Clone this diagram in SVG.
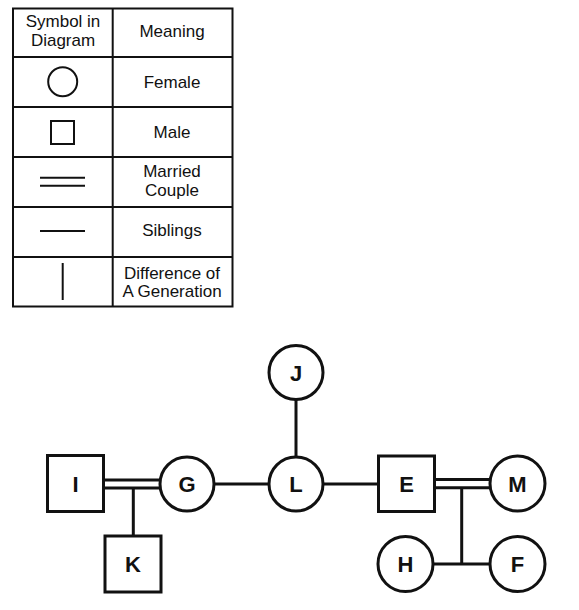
<svg xmlns="http://www.w3.org/2000/svg" width="579" height="610" viewBox="0 0 579 610">
<style>
.t{font-family:"Liberation Sans",Arial,sans-serif;font-size:17px;fill:#111;text-anchor:middle}
.n{font-family:"Liberation Sans",Arial,sans-serif;font-size:22px;font-weight:bold;fill:#111;text-anchor:middle}
.s{fill:#fff;stroke:#111;stroke-width:3}
.l{stroke:#111;stroke-width:3;fill:none}
.g{stroke:#111;stroke-width:2;fill:none}
</style>
<rect width="579" height="610" fill="#fff"/>
<g id="legend">
<rect x="13" y="8.5" width="219.5" height="298" class="g"/>
<line x1="112.7" y1="8.5" x2="112.7" y2="306.5" class="g"/>
<line x1="13" y1="57" x2="232.5" y2="57" class="g"/>
<line x1="13" y1="107" x2="232.5" y2="107" class="g"/>
<line x1="13" y1="157" x2="232.5" y2="157" class="g"/>
<line x1="13" y1="207" x2="232.5" y2="207" class="g"/>
<line x1="13" y1="257" x2="232.5" y2="257" class="g"/>
<text class="t" x="63" y="27">Symbol in</text>
<text class="t" x="63" y="46">Diagram</text>
<text class="t" x="172" y="37">Meaning</text>
<circle cx="62.7" cy="81.7" r="14.5" class="g"/>
<text class="t" x="172" y="88">Female</text>
<rect x="51" y="121" width="23" height="23" class="g"/>
<text class="t" x="172" y="138">Male</text>
<line x1="40" y1="177.7" x2="85" y2="177.7" class="g"/>
<line x1="40" y1="185.7" x2="85" y2="185.7" class="g"/>
<text class="t" x="172" y="177">Married</text>
<text class="t" x="172" y="196">Couple</text>
<line x1="40" y1="231" x2="85" y2="231" class="g"/>
<text class="t" x="172" y="236">Siblings</text>
<line x1="62.7" y1="263" x2="62.7" y2="300" class="g"/>
<text class="t" x="172" y="279">Difference of</text>
<text class="t" x="172" y="297">A Generation</text>
</g>
<g id="connectors">
<line x1="104" y1="480" x2="160" y2="480" class="l"/>
<line x1="104" y1="488" x2="160" y2="488" class="l"/>
<line x1="133.3" y1="488" x2="133.3" y2="536" class="l"/>
<line x1="214" y1="484" x2="269" y2="484" class="l"/>
<line x1="296" y1="400" x2="296" y2="457" class="l"/>
<line x1="323" y1="484" x2="378" y2="484" class="l"/>
<line x1="434" y1="479.5" x2="490" y2="479.5" class="l"/>
<line x1="434" y1="487.7" x2="490" y2="487.7" class="l"/>
<line x1="461.7" y1="487.7" x2="461.7" y2="564" class="l"/>
<line x1="433" y1="564" x2="490" y2="564" class="l"/>
</g>
<g id="node-I"><rect x="47.5" y="455.5" width="56" height="56" class="s"/><text class="n" x="75.5" y="491.5">I</text></g>
<g id="node-G"><circle cx="187" cy="484" r="27" class="s"/><text class="n" x="187" y="492">G</text></g>
<g id="node-K"><rect x="105" y="536" width="56" height="56" class="s"/><text class="n" x="133" y="572">K</text></g>
<g id="node-J"><circle cx="296" cy="372.5" r="27" class="s"/><text class="n" x="296" y="380.5">J</text></g>
<g id="node-L"><circle cx="296" cy="484" r="27" class="s"/><text class="n" x="296" y="492">L</text></g>
<g id="node-E"><rect x="378.5" y="456" width="56" height="55.5" class="s"/><text class="n" x="406.5" y="492">E</text></g>
<g id="node-M"><circle cx="517.5" cy="483.5" r="27.5" class="s"/><text class="n" x="517.5" y="491.5">M</text></g>
<g id="node-H"><circle cx="405.5" cy="564" r="27.5" class="s"/><text class="n" x="405.5" y="572">H</text></g>
<g id="node-F"><circle cx="517.5" cy="564" r="27.5" class="s"/><text class="n" x="517.5" y="572">F</text></g>
</svg>
